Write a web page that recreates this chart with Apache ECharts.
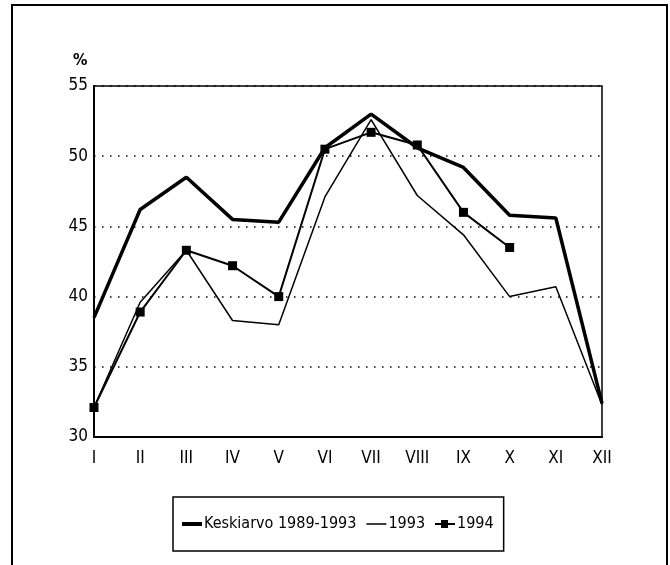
<!DOCTYPE html>
<html>
<head>
<meta charset="utf-8">
<script src="https://cdn.jsdelivr.net/npm/echarts@6/dist/echarts.min.js"></script>
<style>html,body{margin:0;padding:0;background:#fff}#c{width:670px;height:565px}</style>
</head>
<body>
<div id="c"></div>
<script>
var months = ['I','II','III','IV','V','VI','VII','VIII','IX','X','XI','XII'];
var keskiarvo = [38.5, 46.2, 48.5, 45.5, 45.3, 50.6, 53.0, 50.6, 49.2, 45.8, 45.6, 32.4];
var y1993 = [32.1, 39.6, 43.3, 38.3, 38.0, 47.1, 52.6, 47.2, 44.4, 40.0, 40.7, 32.3];
var y1994 = [32.1, 38.9, 43.3, 42.2, 40.0, 50.5, 51.7, 50.8, 46.0, 43.5, null, null];
var yTicks = [30, 35, 40, 45, 50, 55];

var FONT = "'Liberation Sans Narrow', 'DejaVu Sans Condensed', 'Liberation Sans', sans-serif";
var chart = echarts.init(document.getElementById('c'), null, {renderer: 'canvas'});
chart.setOption({
  animation: false,
  backgroundColor: '#fff',
  textStyle: {fontFamily: FONT, color: '#000'},
  graphic: [
    {type: 'rect', shape: {x: 12, y: 5, width: 655, height: 620}, style: {fill: 'none', stroke: '#000', lineWidth: 2}},
    {type: 'text', left: 73, top: 53, style: {text: '%', fontSize: 16, fontWeight: 'bold', fontFamily: FONT, fill: '#000'}}
  ],
  grid: {left: 94, right: 68, top: 86, bottom: 128, show: true, borderColor: '#000', borderWidth: 1.5, backgroundColor: 'transparent'},
  legend: {
    left: 173, top: 497, width: 330,
    padding: [19, 10, 19, 9],
    borderColor: '#000', borderWidth: 1.5,
    itemWidth: 20, itemHeight: 11, itemGap: 10,
    textStyle: {fontFamily: FONT, fontSize: 16, color: '#000', padding: [0, 0, 0, -3]},
    data: [
      {name: 'Keskiarvo 1989-1993', icon: 'path://M0,0H20V0.01H0Z M0,3.5H20V7.5H0Z M0,10.99H20V11H0Z'},
      {name: '1993', icon: 'path://M0,0H20V0.01H0Z M0,4.7H20V6.3H0Z M0,10.99H20V11H0Z'},
      {name: '1994', icon: 'path://M0,0H20V0.01H0Z M0,4.5H6V1.5H13V4.5H20V6.5H13V9.5H6V6.5H0Z M0,10.99H20V11H0Z'}
    ]
  },
  xAxis: {
    type: 'category', data: months, boundaryGap: false,
    axisLine: {lineStyle: {color: '#000', width: 2}},
    axisTick: {show: false},
    axisLabel: {fontFamily: FONT, fontSize: 17, color: '#000', margin: 13, interval: 0}
  },
  yAxis: {
    type: 'value', min: 30, max: 55, interval: 5,
    axisLine: {show: true, lineStyle: {color: '#000', width: 2}},
    axisTick: {show: false},
    axisLabel: {fontFamily: FONT, fontSize: 17, color: '#000', margin: 6,
      formatter: function (v) { return yTicks.indexOf(v) >= 0 ? String(v) : ''; }},
    splitLine: {show: true, lineStyle: {color: '#000', width: 1.5, type: [1.5, 6.5]}}
  },
  series: [
    {name: 'Keskiarvo 1989-1993', type: 'line', data: keskiarvo, symbol: 'none',
      lineStyle: {color: '#000', width: 3.5}, itemStyle: {color: '#000'}, z: 3},
    {name: '1993', type: 'line', data: y1993, symbol: 'none',
      lineStyle: {color: '#000', width: 1.5}, itemStyle: {color: '#000'}, z: 2},
    {name: '1994', type: 'line', data: y1994, symbol: 'rect', symbolSize: 9,
      lineStyle: {color: '#000', width: 2}, itemStyle: {color: '#000'}, z: 4}
  ]
});
</script>
</body>
</html>
